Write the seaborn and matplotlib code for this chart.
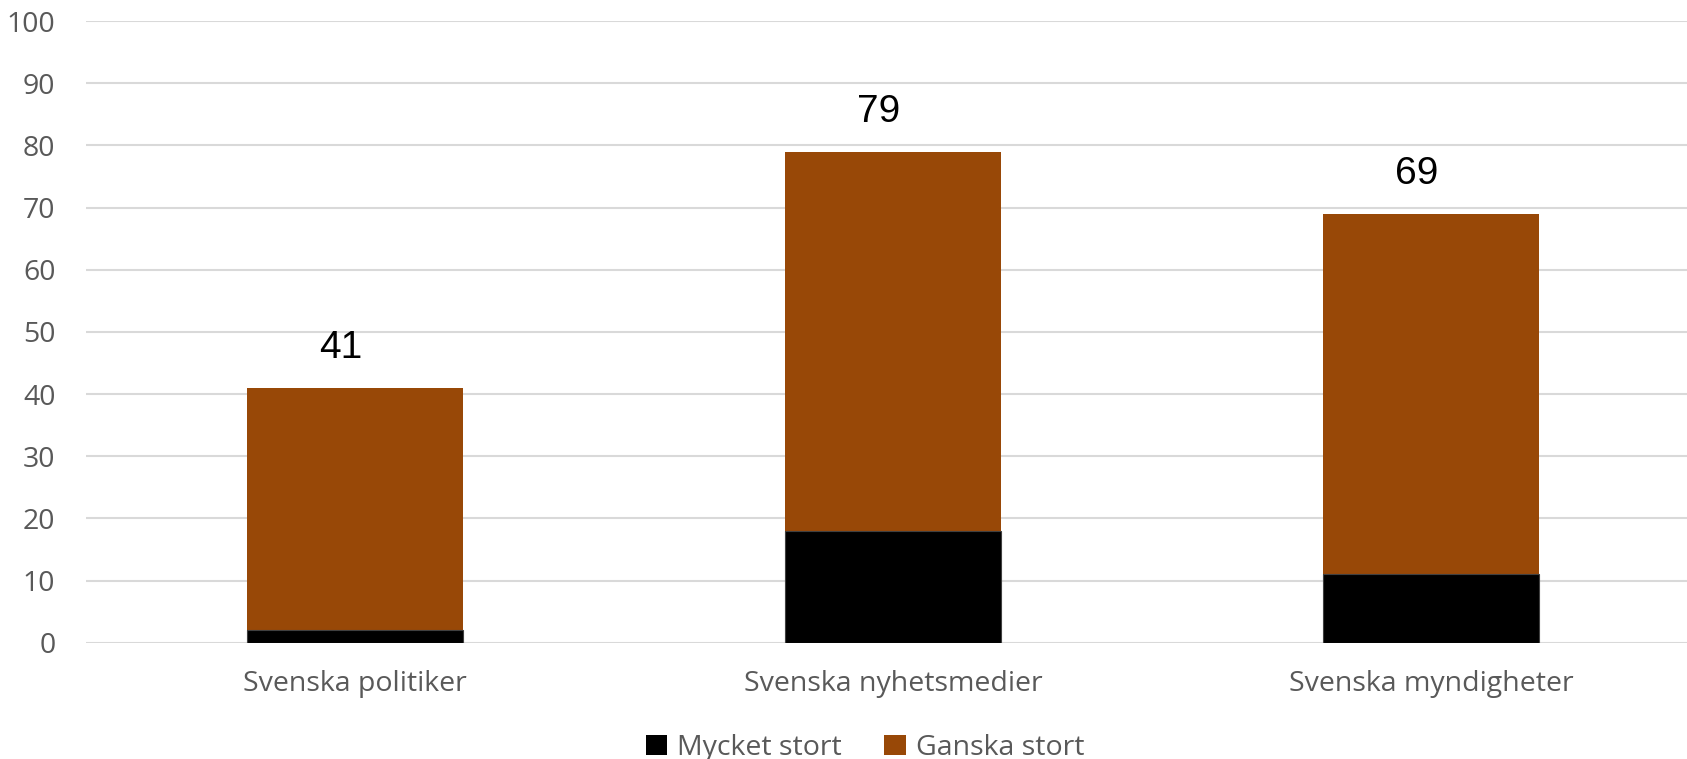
import matplotlib
matplotlib.use("Agg")
import matplotlib.pyplot as plt
import seaborn as sns
import pandas as pd
import numpy as np
from matplotlib.patches import Patch

categories = ["Svenska politiker", "Svenska nyhetsmedier", "Svenska myndigheter"]
mycket_stort = [2, 18, 11]
ganska_stort = [39, 61, 58]
yticks = [0, 10, 20, 30, 40, 50, 60, 70, 80, 90, 100]
series_names = ["Mycket stort", "Ganska stort"]

totals = [m + g for m, g in zip(mycket_stort, ganska_stort)]
df = pd.DataFrame({"cat": categories, "mycket": mycket_stort, "total": totals})

sns.set_theme(style="white")
plt.rcParams['font.family'] = ['Open Sans', 'DejaVu Sans']

W, H = 1687, 759
fig = plt.figure(figsize=(W / 100, H / 100), dpi=100)
left = 86 / W
bottom = 1 - 642.7 / H
height = (642.7 - 21) / H
width = 3 * 538 / W
ax = fig.add_axes([left, bottom, width, height])

brown = "#984807"
sns.barplot(data=df, x="cat", y="total", color=brown, saturation=1, width=0.40,
            ax=ax, zorder=3, linewidth=0)
sns.barplot(data=df, x="cat", y="mycket", color="#000000", saturation=1, width=0.40,
            ax=ax, zorder=4, linewidth=0.8, edgecolor="#404040")

ax.set_ylim(0, 100)
ax.set_xlim(-0.5, 2.5)
ax.set_yticks(yticks)
ax.set_yticklabels([str(v) for v in yticks])
ax.yaxis.grid(True, color="#d9d9d9", linewidth=1.5, zorder=0)
ax.set_axisbelow(True)
for s in ax.spines.values():
    s.set_visible(False)
ax.set_xlabel("")
ax.set_ylabel("")
ax.tick_params(axis="y", length=0, pad=22, labelsize=20.5, labelcolor="#595959")
ax.tick_params(axis="x", length=0, pad=20, labelsize=20.5, labelcolor="#595959")

for i, t in enumerate(totals):
    ax.annotate(str(t), xy=(i, t), xytext=(-14, 30), textcoords="offset pixels",
                ha="center", va="baseline", fontsize=28, color="black",
                family=["Liberation Sans", "DejaVu Sans"])

handles = [Patch(facecolor="#000000", edgecolor="none"),
           Patch(facecolor=brown, edgecolor="none")]
fig.legend(handles, series_names, loc="center", bbox_to_anchor=(865 / W, 1 - 748 / H),
           ncol=2, frameon=False, fontsize=20.5, labelcolor="#595959",
           handlelength=0.75, handleheight=0.75, handletextpad=0.35, columnspacing=1.5)

fig.savefig("out.png", dpi=100)
